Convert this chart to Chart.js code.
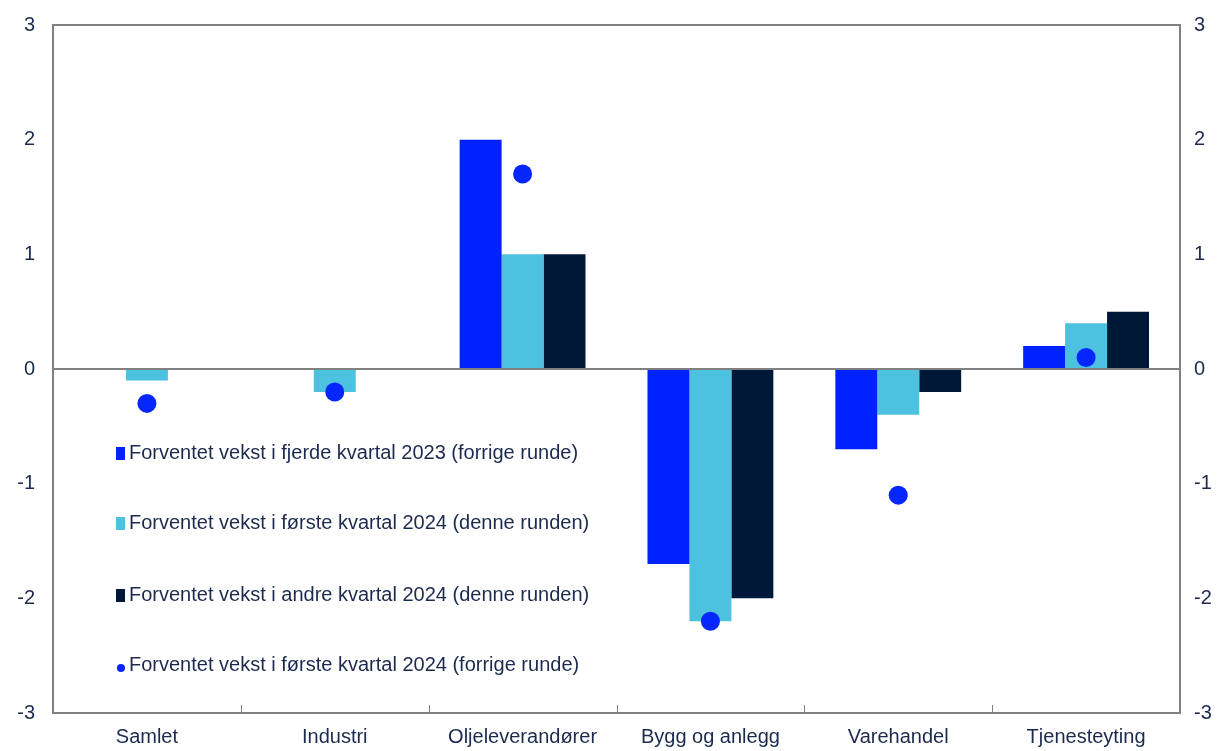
<!DOCTYPE html>
<html lang="no">
<head>
    <meta charset="UTF-8">
    <title>Forventet vekst</title>
    <script src="https://cdn.jsdelivr.net/npm/chart.js"></script>
    <style>
        html, body { margin: 0; padding: 0; background: #fff; }
        #wrap { width: 1229px; height: 751px; position: relative; }
    </style>
</head>
<body>
    <div id="wrap"><canvas id="chart"></canvas></div>
    <script>
        // data
        const categories = ['Samlet', 'Industri', 'Oljeleverandører', 'Bygg og anlegg', 'Varehandel', 'Tjenesteyting'];
        const fjerde2023 = [0, 0, 2.0, -1.7, -0.7, 0.2];
        const forste2024 = [-0.1, -0.2, 1.0, -2.2, -0.4, 0.4];
        const andre2024 = [0, 0, 1.0, -2.0, -0.2, 0.5];
        const forste2024Forrige = [-0.3, -0.2, 1.7, -2.2, -1.1, 0.1];
        const seriesLabels = [
            'Forventet vekst i fjerde kvartal 2023 (forrige runde)',
            'Forventet vekst i første kvartal 2024 (denne runden)',
            'Forventet vekst i andre kvartal 2024 (denne runden)',
            'Forventet vekst i første kvartal 2024 (forrige runde)'
        ];
        const yTicks = [-3, -2, -1, 0, 1, 2, 3];

        const textColor = '#1b2a4e';
        const axisColor = '#808080';
        const fontFamily = '"Liberation Sans Narrow", "Arial Narrow", "Liberation Sans", Arial, sans-serif';

        // legend drawn inside the plot area
        const innerLegend = {
            id: 'innerLegend',
            afterDraw(chart) {
                const ctx = chart.ctx;
                const rows = [453, 523, 595, 665];
                ctx.save();
                ctx.font = '20px ' + fontFamily;
                ctx.textBaseline = 'middle';
                chart.data.datasets.forEach((ds, i) => {
                    const y = rows[i];
                    ctx.fillStyle = ds.backgroundColor;
                    if (ds.type === 'line') {
                        ctx.beginPath();
                        ctx.arc(121, y + 3, 4, 0, Math.PI * 2);
                        ctx.fill();
                    } else {
                        ctx.fillRect(116, y - 6, 9, 13);
                    }
                    ctx.fillStyle = textColor;
                    ctx.fillText(ds.label, 129, y);
                });
                ctx.restore();
            }
        };

        // top border + small inward ticks on the category axis
        const frame = {
            id: 'frame',
            afterDraw(chart) {
                const a = chart.chartArea, ctx = chart.ctx;
                ctx.save();
                ctx.strokeStyle = axisColor;
                ctx.lineWidth = 2;
                ctx.beginPath();
                ctx.moveTo(a.left, a.top);
                ctx.lineTo(a.right, a.top);
                ctx.stroke();
                ctx.lineWidth = 1;
                const step = (a.right - a.left) / categories.length;
                for (let i = 1; i < categories.length; i++) {
                    const px = Math.round(a.left + step * i) + 0.5;
                    ctx.beginPath();
                    ctx.moveTo(px, a.bottom);
                    ctx.lineTo(px, a.bottom - 8);
                    ctx.stroke();
                }
                ctx.restore();
            }
        };

        const yAxis = (pos) => ({
            position: pos,
            min: -3,
            max: 3,
            afterBuildTicks: (axis) => { axis.ticks = yTicks.map(v => ({ value: v })); },
            afterFit: (axis) => {
                axis.width = pos === 'left' ? 53 : 49;
                axis.paddingTop = 0;
                axis.paddingBottom = 0;
            },
            border: { display: true, color: axisColor, width: 2 },
            grid: {
                drawTicks: false,
                drawOnChartArea: pos === 'left',
                color: (c) => c.tick && c.tick.value === 0 ? axisColor : 'rgba(0,0,0,0)',
                lineWidth: 2
            },
            ticks: {
                color: textColor,
                font: { size: 20, family: fontFamily },
                padding: pos === 'left' ? 18 : 14
            }
        });

        new Chart(document.getElementById('chart'), {
            type: 'bar',
            data: {
                labels: categories,
                datasets: [
                    { label: seriesLabels[0], data: fjerde2023, backgroundColor: '#0022ff', order: 1 },
                    { label: seriesLabels[1], data: forste2024, backgroundColor: '#4cc1e0', order: 1 },
                    { label: seriesLabels[2], data: andre2024, backgroundColor: '#001838', order: 1 },
                    {
                        type: 'line', label: seriesLabels[3], data: forste2024Forrige,
                        backgroundColor: '#0526ff', borderColor: '#0526ff',
                        showLine: false, pointRadius: 9.5, pointBorderWidth: 0, order: 0
                    }
                ]
            },
            options: {
                responsive: true,
                maintainAspectRatio: false,
                animation: false,
                categoryPercentage: 0.67,
                barPercentage: 1.0,
                layout: { padding: { top: 25, right: 0, left: 0, bottom: 0 } },
                plugins: {
                    legend: { display: false },
                    tooltip: { enabled: false }
                },
                scales: {
                    x: {
                        afterFit: (axis) => { axis.height = 38; },
                        border: { display: true, color: axisColor, width: 2 },
                        grid: { display: false },
                        ticks: {
                            color: textColor,
                            font: { size: 20, family: fontFamily },
                            padding: 4,
                            maxRotation: 0
                        }
                    },
                    y: yAxis('left'),
                    y2: yAxis('right')
                }
            },
            plugins: [innerLegend, frame]
        });
    </script>
</body>
</html>
